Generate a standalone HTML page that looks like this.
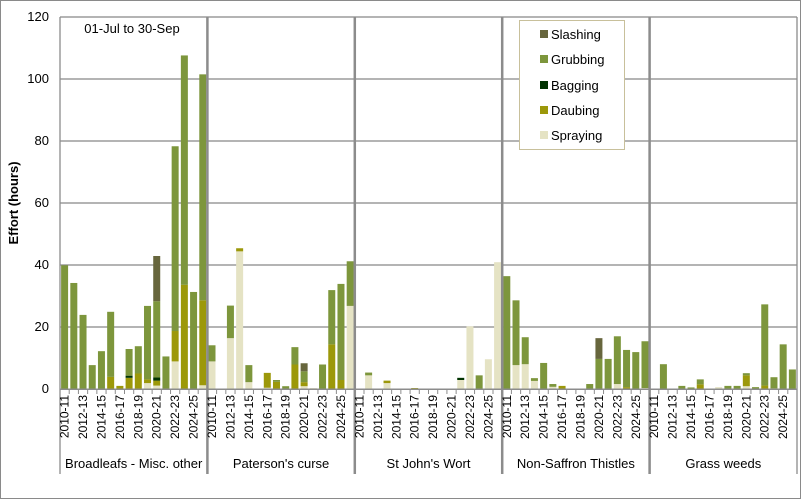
<!DOCTYPE html>
<html><head><meta charset="utf-8"><style>
html,body{margin:0;padding:0;background:#fff}
svg{display:block;font-family:"Liberation Sans",sans-serif}
</style></head><body>
<svg id="c" width="801" height="499" viewBox="0 0 801 499" xmlns="http://www.w3.org/2000/svg">
<rect x="0.5" y="0.5" width="800" height="498" fill="#fff" stroke="#8a8a8a"/>
<g stroke="#868686" stroke-width="1.3">
<line x1="60" y1="17" x2="797" y2="17"/>
<line x1="60" y1="79" x2="797" y2="79"/>
<line x1="60" y1="141" x2="797" y2="141"/>
<line x1="60" y1="203" x2="797" y2="203"/>
<line x1="60" y1="265" x2="797" y2="265"/>
<line x1="60" y1="327" x2="797" y2="327"/>
</g>
<g id="bars"></g>
<g stroke="#8c8c8c">
<line x1="60" y1="17" x2="60" y2="474" stroke-width="1.3"/>
<line x1="207.4" y1="17" x2="207.4" y2="474" stroke-width="2.5"/>
<line x1="354.8" y1="17" x2="354.8" y2="474" stroke-width="2.5"/>
<line x1="502.2" y1="17" x2="502.2" y2="474" stroke-width="2.5"/>
<line x1="649.6" y1="17" x2="649.6" y2="474" stroke-width="2.5"/>
<line x1="797" y1="17" x2="797" y2="474" stroke-width="1.3"/>
<line x1="60" y1="389.3" x2="797" y2="389.3" stroke-width="1.5"/>
</g>
<g id="ticks" stroke="#8c8c8c" stroke-width="1"></g>
<g font-size="13" fill="#000" text-anchor="end">
<text x="49" y="21">120</text>
<text x="49" y="83">100</text>
<text x="49" y="145">80</text>
<text x="49" y="207">60</text>
<text x="49" y="269">40</text>
<text x="49" y="331">20</text>
<text x="49" y="393">0</text>
</g>
<text transform="translate(18,203) rotate(-90)" text-anchor="middle" font-size="13" font-weight="bold">Effort  (hours)</text>
<text x="132" y="33" text-anchor="middle" font-size="13">01-Jul to 30-Sep</text>
<g font-size="13" text-anchor="middle">
<text x="133.7" y="468">Broadleafs - Misc. other</text>
<text x="281.1" y="468">Paterson's curse</text>
<text x="428.5" y="468">St John's Wort</text>
<text x="575.9" y="468">Non-Saffron Thistles</text>
<text x="723.3" y="468">Grass weeds</text>
</g>
<g font-size="12" text-anchor="end" dominant-baseline="central">
<g transform="translate(60,0)">
<text transform="translate(4.6,395) rotate(-90)">2010-11</text>
<text transform="translate(23,395) rotate(-90)">2012-13</text>
<text transform="translate(41.5,395) rotate(-90)">2014-15</text>
<text transform="translate(59.9,395) rotate(-90)">2016-17</text>
<text transform="translate(78.3,395) rotate(-90)">2018-19</text>
<text transform="translate(96.7,395) rotate(-90)">2020-21</text>
<text transform="translate(115.1,395) rotate(-90)">2022-23</text>
<text transform="translate(133.6,395) rotate(-90)">2024-25</text>
</g>
<g transform="translate(207.4,0)">
<text transform="translate(4.6,395) rotate(-90)">2010-11</text>
<text transform="translate(23,395) rotate(-90)">2012-13</text>
<text transform="translate(41.5,395) rotate(-90)">2014-15</text>
<text transform="translate(59.9,395) rotate(-90)">2016-17</text>
<text transform="translate(78.3,395) rotate(-90)">2018-19</text>
<text transform="translate(96.7,395) rotate(-90)">2020-21</text>
<text transform="translate(115.1,395) rotate(-90)">2022-23</text>
<text transform="translate(133.6,395) rotate(-90)">2024-25</text>
</g>
<g transform="translate(354.8,0)">
<text transform="translate(4.6,395) rotate(-90)">2010-11</text>
<text transform="translate(23,395) rotate(-90)">2012-13</text>
<text transform="translate(41.5,395) rotate(-90)">2014-15</text>
<text transform="translate(59.9,395) rotate(-90)">2016-17</text>
<text transform="translate(78.3,395) rotate(-90)">2018-19</text>
<text transform="translate(96.7,395) rotate(-90)">2020-21</text>
<text transform="translate(115.1,395) rotate(-90)">2022-23</text>
<text transform="translate(133.6,395) rotate(-90)">2024-25</text>
</g>
<g transform="translate(502.2,0)">
<text transform="translate(4.6,395) rotate(-90)">2010-11</text>
<text transform="translate(23,395) rotate(-90)">2012-13</text>
<text transform="translate(41.5,395) rotate(-90)">2014-15</text>
<text transform="translate(59.9,395) rotate(-90)">2016-17</text>
<text transform="translate(78.3,395) rotate(-90)">2018-19</text>
<text transform="translate(96.7,395) rotate(-90)">2020-21</text>
<text transform="translate(115.1,395) rotate(-90)">2022-23</text>
<text transform="translate(133.6,395) rotate(-90)">2024-25</text>
</g>
<g transform="translate(649.6,0)">
<text transform="translate(4.6,395) rotate(-90)">2010-11</text>
<text transform="translate(23,395) rotate(-90)">2012-13</text>
<text transform="translate(41.5,395) rotate(-90)">2014-15</text>
<text transform="translate(59.9,395) rotate(-90)">2016-17</text>
<text transform="translate(78.3,395) rotate(-90)">2018-19</text>
<text transform="translate(96.7,395) rotate(-90)">2020-21</text>
<text transform="translate(115.1,395) rotate(-90)">2022-23</text>
<text transform="translate(133.6,395) rotate(-90)">2024-25</text>
</g>
</g>
<rect x="519.5" y="20.5" width="105" height="129" fill="#fff" stroke="#c8c09b"/>
<rect x="540" y="30" width="8" height="8" fill="#67663d"/>
<rect x="540" y="55" width="8" height="8" fill="#7d963c"/>
<rect x="540" y="81" width="8" height="8" fill="#003300"/>
<rect x="540" y="106" width="8" height="8" fill="#9c980a"/>
<rect x="540" y="131" width="8" height="8" fill="#e5e3c4"/>
<g font-size="13">
<text x="551" y="39">Slashing</text>
<text x="551" y="64">Grubbing</text>
<text x="551" y="90">Bagging</text>
<text x="551" y="115">Daubing</text>
<text x="551" y="140">Spraying</text>
</g>
</svg>
<script>
var cols=["#e5e3c4","#9c980a","#003300","#7d963c","#67663d"];
var D=[
{0:[0,0,0,40,0],1:[0,0,0,34.3,0],2:[0,0,0,24,0],3:[0,0,0,7.8,0],4:[0,0,0,12.3,0],5:[0,4,0,21,0],6:[0,1.1,0,0,0],7:[0,3.7,0.7,8.6,0],8:[0,5.1,0,8.8,0],9:[2,1.2,0,23.7,0],10:[1.2,1.6,1,24.6,14.6],11:[0,0,0,10.6,0],12:[9,9.8,0,59.6,0],13:[0,33.7,0,74,0],14:[0,0,0,31.4,0],15:[1.3,27.4,0,72.9,0]},
{0:[9,0,0,5.2,0],2:[16.5,0,0,10.5,0],3:[44.5,1,0,0,0],4:[2.3,0,0,5.5,0],6:[0.5,4.8,0,0,0],7:[0,2.4,0,0.6,0],8:[0,0,0,1,0],9:[0,8,0,5.6,0],10:[1,1.3,0,3.5,2.6],11:[0.4,0,0,0,0],12:[0,0,0,8,0],13:[0,14.5,0,17.5,0],14:[0,3,0,31,0],15:[26.9,0,0,14.4,0]},
{1:[4.5,0,0,0.9,0],3:[2,0.8,0,0,0],6:[0,0.4,0,0,0],11:[3,0,0.7,0,0],12:[20.3,0,0,0,0],13:[0,0,0,4.5,0],14:[9.7,0,0,0,0],15:[41,0,0,0,0]},
{0:[0,0,0,36.5,0],1:[7.8,0,0,20.9,0],2:[8.1,0,0,8.7,0],3:[2.7,0,0,0.9,0],4:[0,0,0,8.5,0],5:[0.8,0,0,0.9,0],6:[0,1.1,0,0,0],9:[0,0,0,1.7,0],10:[0,0,0,9.8,6.7],11:[0,0,0,9.8,0],12:[1.7,0,0,15.4,0],13:[0,0.7,0,12,0],14:[0,0,0,12,0],15:[0.4,0,0,15.1,0]},
{1:[0,0,0,8.1,0],3:[0,0,0,1.1,0],4:[0,0,0,0.6,0],5:[0,1.6,0,1.6,0],7:[0.7,0,0,0,0],8:[0,0,0,1.1,0],9:[0,0,0,1.1,0],10:[1,3.5,0,0.7,0],11:[0,0,0,0.7,0],12:[0,1.2,0,26.2,0],13:[0,0.3,0,3.6,0],14:[0,0,0,14.5,0],15:[0,0,0,6.4,0]}
];
var ns="http://www.w3.org/2000/svg",bg=document.getElementById("bars"),tg=document.getElementById("ticks");
var sw=147.4/16,base=389.3,k=3.1;
for(var g=0;g<5;g++){var x0=60+g*147.4;
 for(var i=0;i<=16;i++){var l=document.createElementNS(ns,"line");var tx=x0+i*sw;l.setAttribute("x1",tx);l.setAttribute("x2",tx);l.setAttribute("y1",389);l.setAttribute("y2",394);tg.appendChild(l);}
 for(var i=0;i<16;i++){var d=D[g][i];if(!d)continue;var y=base;
  for(var s=0;s<5;s++){if(!d[s])continue;var h=d[s]*k;y-=h;var r=document.createElementNS(ns,"rect");
   r.setAttribute("x",x0+i*sw+1.1);r.setAttribute("width",7);r.setAttribute("y",y);r.setAttribute("height",h);r.setAttribute("fill",cols[s]);bg.appendChild(r);}
 }}
</script>
</body></html>
